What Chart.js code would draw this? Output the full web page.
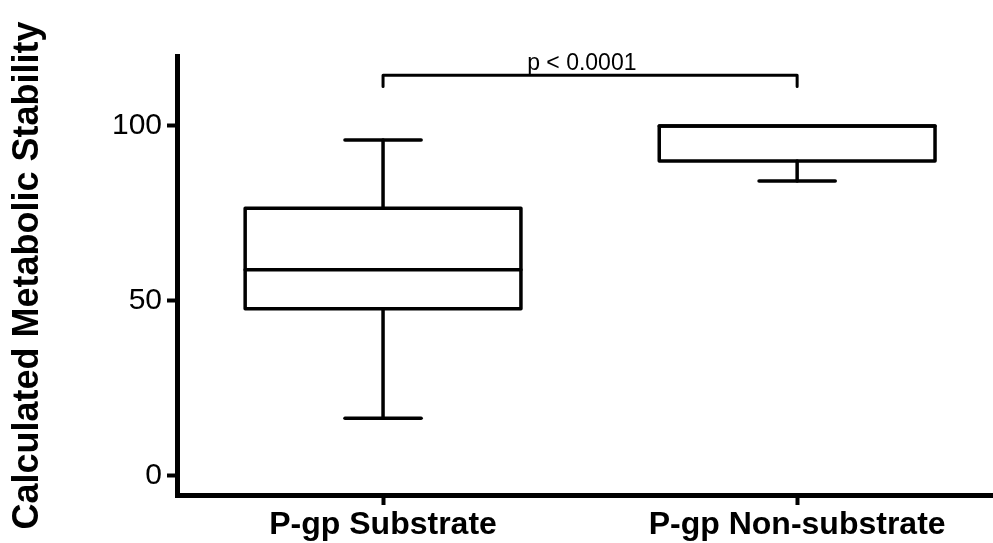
<!DOCTYPE html>
<html>
<head>
<meta charset="utf-8">
<script src="https://cdn.jsdelivr.net/npm/chart.js@4.4.1/dist/chart.umd.min.js"></script>
<style>
  html, body { margin: 0; padding: 0; background: #fff; }
  #wrap { width: 993px; height: 543px; }
</style>
</head>
<body>
<div id="wrap"><canvas id="chart" width="993" height="543"></canvas></div>
<script>
// Box plot summary per group
const categories = ['P-gp Substrate', 'P-gp Non-substrate'];
const whiskerMin = [16.5, 84.3];
const q1 = [47.8, 90];
const median = [58.9, 100];
const q3 = [76.5, 100];
const whiskerMax = [96, 100];

const yTicks = [0, 50, 100];
const yTitle = 'Calculated Metabolic Stability';

// significance bracket between the two groups
const bracketLevel = 114.5;
const bracketTip = 111.3;
const bracketText = 'p < 0.0001';

const FONT = 'Arial, "Liberation Sans", sans-serif';
const BOX_HALF = 0.333;
const CAP_HALF = 0.092;

const boxPlotPlugin = {
    id: 'boxPlot',
    afterDraw(chart) {
        const { ctx, scales: { x, y } } = chart;
        ctx.save();
        ctx.strokeStyle = '#000';
        ctx.lineWidth = 3.5;
        ctx.lineCap = 'round';
        ctx.lineJoin = 'round';

        const line = (x1, y1, x2, y2) => {
            ctx.beginPath();
            ctx.moveTo(x1, y1);
            ctx.lineTo(x2, y2);
            ctx.stroke();
        };

        categories.forEach((cat, i) => {
            const c = i + 1;
            const xc = x.getPixelForValue(c);
            const xl = x.getPixelForValue(c - BOX_HALF);
            const xr = x.getPixelForValue(c + BOX_HALF);
            const cl = x.getPixelForValue(c - CAP_HALF);
            const cr = x.getPixelForValue(c + CAP_HALF);
            const yMin = y.getPixelForValue(whiskerMin[i]);
            const yQ1 = y.getPixelForValue(q1[i]);
            const yMed = y.getPixelForValue(median[i]);
            const yQ3 = y.getPixelForValue(q3[i]);
            const yMax = y.getPixelForValue(whiskerMax[i]);

            // whiskers and caps
            line(xc, yQ1, xc, yMin);
            line(cl, yMin, cr, yMin);
            if (whiskerMax[i] > q3[i]) {
                line(xc, yQ3, xc, yMax);
                line(cl, yMax, cr, yMax);
            }
            // box and median
            ctx.beginPath();
            ctx.rect(xl, yQ3, xr - xl, yQ1 - yQ3);
            ctx.stroke();
            line(xl, yMed, xr, yMed);
        });

        // bracket with p-value
        const bx1 = x.getPixelForValue(1);
        const bx2 = x.getPixelForValue(2);
        const by = y.getPixelForValue(bracketLevel);
        const bt = y.getPixelForValue(bracketTip);
        ctx.lineWidth = 3;
        ctx.beginPath();
        ctx.moveTo(bx1, bt);
        ctx.lineTo(bx1, by);
        ctx.lineTo(bx2, by);
        ctx.lineTo(bx2, bt);
        ctx.stroke();

        ctx.fillStyle = '#000';
        ctx.font = '23px ' + FONT;
        ctx.textAlign = 'center';
        ctx.textBaseline = 'alphabetic';
        ctx.fillText(bracketText, x.getPixelForValue(1.48), by - 5.5);
        ctx.restore();
    }
};

new Chart(document.getElementById('chart'), {
    type: 'scatter',
    data: { datasets: [] },
    options: {
        responsive: false,
        animation: false,
        layout: { padding: { top: 56, left: 0, right: 0, bottom: 0 } },
        plugins: {
            legend: { display: false },
            tooltip: { enabled: false }
        },
        scales: {
            x: {
                type: 'linear',
                min: 0.5024,
                max: 2.473,
                afterFit: (scale) => { scale.height = 48; },
                afterBuildTicks: (scale) => {
                    scale.ticks = categories.map((c, i) => ({ value: i + 1 }));
                },
                grid: {
                    display: true,
                    drawOnChartArea: false,
                    drawTicks: true,
                    tickLength: 10,
                    tickWidth: 4,
                    tickColor: '#000',
                    lineWidth: 5
                },
                border: { display: true, color: '#000', width: 5 },
                ticks: {
                    padding: 4,
                    color: '#000',
                    font: { family: FONT, size: 32, weight: 'bold', lineHeight: 1 },
                    callback: (v) => categories[Math.round(v) - 1] || ''
                }
            },
            y: {
                type: 'linear',
                min: -5.43,
                max: 120,
                afterFit: (scale) => { scale.width = 177; },
                afterBuildTicks: (scale) => {
                    scale.ticks = yTicks.map((v) => ({ value: v }));
                },
                grid: {
                    display: true,
                    drawOnChartArea: false,
                    drawTicks: true,
                    tickLength: 10,
                    tickWidth: 4,
                    tickColor: '#000',
                    lineWidth: 5
                },
                border: { display: true, color: '#000', width: 5 },
                ticks: {
                    padding: 5,
                    color: '#000',
                    font: { family: FONT, size: 30 }
                },
                title: {
                    display: true,
                    text: yTitle,
                    color: '#000',
                    align: 'center',
                    padding: { top: 6, bottom: 0 },
                    font: { family: FONT, size: 36, weight: 'bold', lineHeight: 1.2 }
                }
            }
        }
    },
    plugins: [boxPlotPlugin]
});
</script>
</body>
</html>
